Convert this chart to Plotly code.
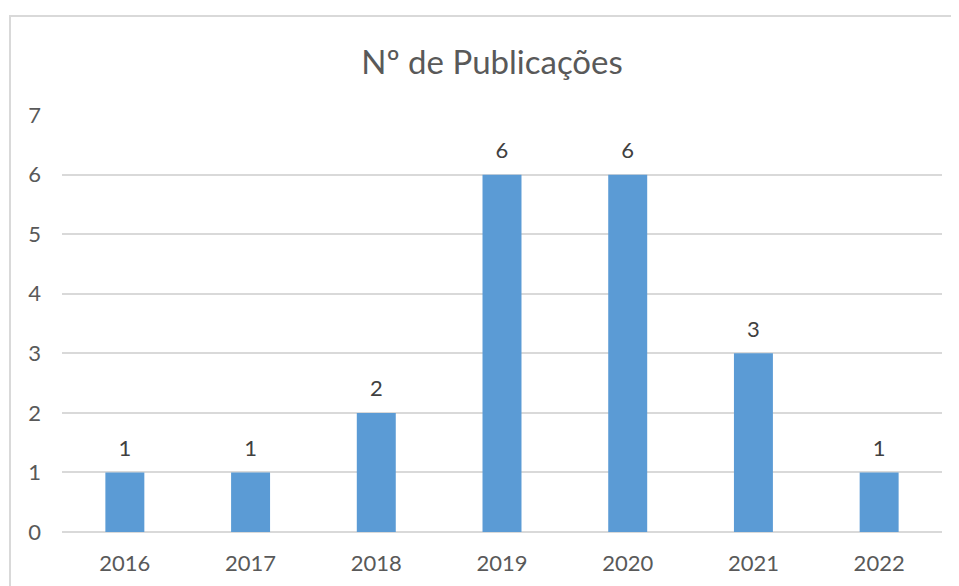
import plotly.graph_objects as go

years = ["2016", "2017", "2018", "2019", "2020", "2021", "2022"]
counts = [1, 1, 2, 6, 6, 3, 1]
y_ticks = [0, 1, 2, 3, 4, 5, 6, 7]
title_text = "Nº de Publicações"

FONT = "Lato, 'Open Sans', sans-serif"
GREY = "#595959"

# the page body has an 8px default margin; compensate in the figure size
W, H = 951, 578

fig = go.Figure()
fig.add_trace(go.Bar(
    x=years, y=counts,
    marker=dict(color="#5b9bd5", line=dict(width=0)),
    hoverinfo="x+y",
))
fig.add_trace(go.Scatter(
    x=years, y=counts, mode="markers+text",
    text=[str(c) for c in counts], textposition="top center",
    marker=dict(size=16, opacity=0),
    textfont=dict(family=FONT, size=22, color="#404040"),
    hoverinfo="skip", cliponaxis=False,
))

fig.add_shape(type="rect", xref="paper", yref="paper",
              x0=-0.0591, x1=1.2, y0=-0.6, y1=1.2374,
              line=dict(color="#d9d9d9", width=2), fillcolor="rgba(0,0,0,0)",
              layer="below")

fig.update_layout(
    width=W, height=H,
    margin=dict(l=54, r=17, t=107, b=54),
    paper_bgcolor="white", plot_bgcolor="white",
    bargap=0.69,
    showlegend=False,
    title=dict(text=title_text, x=(492 - 8) / W, xanchor="center", xref="container",
               y=1 - (62 - 8) / H, yanchor="middle", yref="container",
               font=dict(family=FONT, size=33, color=GREY)),
    font=dict(family=FONT, color=GREY),
)
fig.update_xaxes(type="category", showgrid=False, showline=False, zeroline=False,
                 tickfont=dict(family=FONT, size=22, color=GREY),
                 ticklabelstandoff=16, automargin=False)
fig.update_yaxes(range=[0, 7.002], tickvals=y_ticks, showgrid=True,
                 gridcolor="#d9d9d9", gridwidth=2, zeroline=True,
                 zerolinecolor="#d9d9d9", zerolinewidth=2, showline=False,
                 tickfont=dict(family=FONT, size=22, color=GREY),
                 ticklabelstandoff=20, automargin=False)

fig.write_html("out.html")
